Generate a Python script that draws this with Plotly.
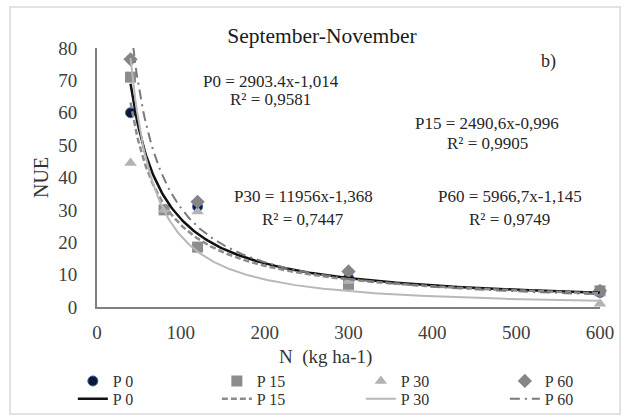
import numpy as np
import plotly.graph_objects as go

# Observed NUE values for each P level
n_p0 = [40, 120, 300, 600]
nue_p0 = [60, 31, 9, 4.5]
n_p15 = [40, 80, 120, 300, 600]
nue_p15 = [71, 30, 18.5, 7, 5]
n_p30 = [40, 80, 120, 300, 600]
nue_p30 = [44.5, 30, 29.5, 8, 1]
n_p60 = [40, 120, 300, 600]
nue_p60 = [76.5, 32.5, 11, 5]

# Power trendlines y = a * x^b
fit_a = [2903.4, 2490.6, 11956, 5966.7]
fit_b = [-1.014, -0.996, -1.368, -1.145]
fit_labels = ["P0 = 2903.4x-1,014", "P15 = 2490,6x-0,996",
              "P30 = 11956x-1,368", "P60 = 5966,7x-1,145"]
fit_r2 = ["R² = 0,9581", "R² = 0,9905", "R² = 0,7447", "R² = 0,9749"]

names = ["P 0", "P 15", "P 30", "P 60"]
xs = [n_p0, n_p15, n_p30, n_p60]
ys = [nue_p0, nue_p15, nue_p30, nue_p60]

x_ticks = [0, 100, 200, 300, 400, 500, 600]
y_ticks = [0, 10, 20, 30, 40, 50, 60, 70, 80]

SERIF = "Liberation Serif, Times New Roman, serif"

marker_styles = [
    dict(symbol="circle", size=10, color="#0d1838", line=dict(color="#3a5fb0", width=1)),
    dict(symbol="square", size=11, color="#8c8c8c"),
    dict(symbol="triangle-up", size=11, color="#b3b3b3"),
    dict(symbol="diamond", size=11, color="#858585"),
]
line_styles = [
    dict(color="#111111", width=2.5, dash="solid"),
    dict(color="#8c8c8c", width=2.5, dash="6px,3px"),
    dict(color="#b8b8b8", width=2, dash="solid"),
    dict(color="#7a7a7a", width=2, dash="10px,5px,2px,5px"),
]

fig = go.Figure()

for i in range(4):
    fig.add_trace(go.Scatter(
        x=xs[i], y=ys[i], mode="markers", name=names[i],
        marker=marker_styles[i], cliponaxis=False, legend="legend",
    ))

xf = np.linspace(40, 600, 300)
for i in range(4):
    fig.add_trace(go.Scatter(
        x=xf, y=fit_a[i] * xf ** fit_b[i], mode="lines", name=names[i],
        line=line_styles[i], legend="legend2",
    ))

# trendline equation labels (paper coords of each text block's center)
eq_pos = [(0.345, 0.869, 0.800), (0.776, 0.710, 0.632),
          (0.410, 0.425, 0.336), (0.821, 0.425, 0.336)]
for i, (xp, y1, y2) in enumerate(eq_pos):
    for txt, yp in ((fit_labels[i], y1), (fit_r2[i], y2)):
        fig.add_annotation(x=xp, y=yp, xref="paper", yref="paper", text=txt,
                           xanchor="center", yanchor="middle", showarrow=False,
                           font=dict(family=SERIF, size=17, color="#262626"))

fig.add_annotation(x=0.897, y=0.946, xref="paper", yref="paper", text="b)",
                   xanchor="center", yanchor="middle", showarrow=False,
                   font=dict(family=SERIF, size=18, color="#262626"))

# x axis title, set slightly left of the plot centre
fig.add_annotation(x=(325 - 97) / 503, y=(307 - 357) / 259, xref="paper", yref="paper",
                   text="N  (kg ha-1)", xanchor="center", yanchor="middle", showarrow=False,
                   font=dict(family=SERIF, size=19, color="#333333"))

# chart area frame
fig.add_shape(type="rect", xref="paper", yref="paper",
              x0=-0.173, x1=1.040, y0=-0.413, y1=1.158,
              line=dict(color="#d9d9d9", width=1.5), fillcolor="rgba(0,0,0,0)", layer="below")

legend_common = dict(orientation="h", xanchor="left", yanchor="middle",
                     entrywidth=99, font=dict(family=SERIF, size=16, color="#333333"),
                     bgcolor="rgba(0,0,0,0)", tracegroupgap=0)

fig.update_layout(
    width=624, height=417,
    margin=dict(l=97, r=24, t=48, b=110, autoexpand=False),
    paper_bgcolor="white", plot_bgcolor="white",
    title=dict(text="September-November", x=322 / 624, xanchor="center",
               y=1 - 35 / 417, yanchor="middle",
               font=dict(family=SERIF, size=21.5, color="#1a1a1a")),
    font=dict(family=SERIF, color="#404040"),
    xaxis=dict(range=[0, 600], tickvals=x_ticks, showgrid=False, zeroline=False,
               showline=True, linecolor="#808080", linewidth=2, ticks="",
               tickfont=dict(family=SERIF, size=19, color="#404040"),
               ticklabelstandoff=7),
    yaxis=dict(range=[0, 80], tickvals=y_ticks, showgrid=False, zeroline=False,
               showline=True, linecolor="#808080", linewidth=2, ticks="",
               tickfont=dict(family=SERIF, size=19, color="#404040"),
               ticklabelstandoff=14,
               title=dict(text="NUE", standoff=4,
                          font=dict(family=SERIF, size=20, color="#333333"))),
    legend=dict(x=-0.048, y=-0.286, **legend_common),
    legend2=dict(x=-0.048, y=-0.355, **legend_common),
    showlegend=True,
)

fig.write_html("out.html")
